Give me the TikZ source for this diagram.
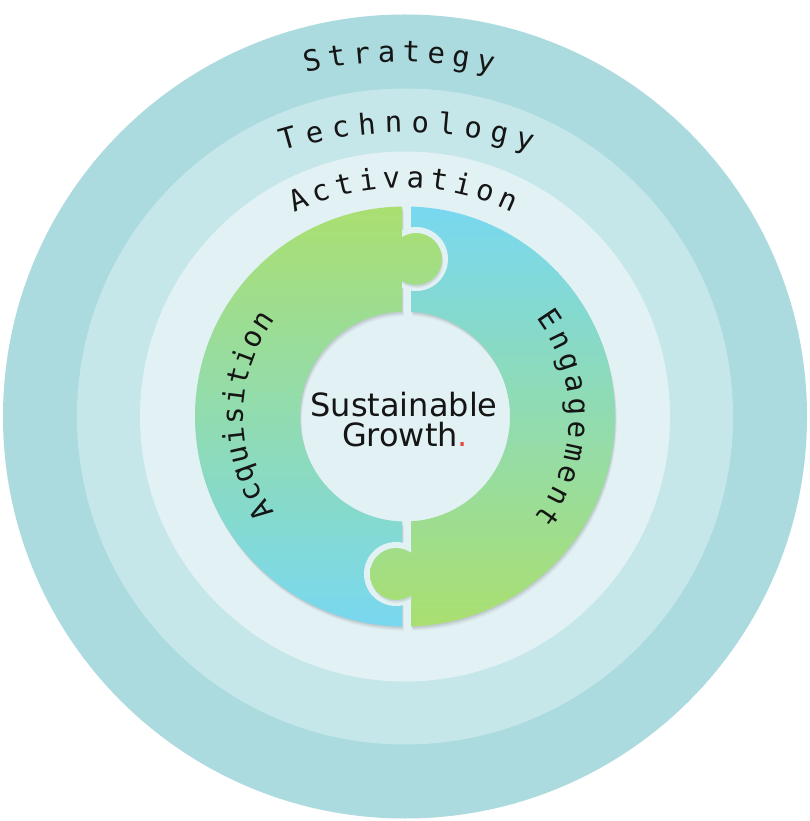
\documentclass[tikz,border=0pt]{standalone}
\usepackage{fontspec}
\newfontfamily\arcfont{DejaVu Sans Mono}
\newfontfamily\centerfont{DejaVu Sans}
\definecolor{ringA}{HTML}{ABDADF}
\definecolor{ringB}{HTML}{C5E7E9}
\definecolor{ringC}{HTML}{E2F1F4}
\definecolor{pgreen}{HTML}{AADF70}
\definecolor{pblue}{HTML}{78D8F0}
\definecolor{dotred}{HTML}{E5483E}
\definecolor{inktext}{HTML}{151515}
\tikzset{
  arcletter/.style={font=\arcfont\fontsize{29}{29}\selectfont, inner sep=0pt, anchor=base, text=inktext},
  centertext/.style={font=\centerfont\fontsize{32}{32}\selectfont, inner sep=0pt, anchor=base, text=inktext},
  shadeL/.style={top color=pgreen, bottom color=pblue},
  shadeR/.style={top color=pblue, bottom color=pgreen},
}
\def\leftC{(-3,209.979) arc[start angle=90.8185, end angle=269.1815, radius=210] -- (-3,-104.957) arc[start angle=268.363, end angle=91.637, radius=105] -- cycle}
\def\rightC{(6,209.914) arc[start angle=88.3628, end angle=-88.3628, radius=210] -- (6,-104.828) arc[start angle=-86.7242, end angle=86.7242, radius=105] -- cycle}
\def\knobT{(11,157.5) circle (26)}
\def\knobB{(-9,-157.5) circle (26)}
\begin{document}
\begin{tikzpicture}[x=1pt,y=1pt]
\useasboundingbox (-405,-404.5) rectangle (405,416.5);
\fill[white] (-405,-404.5) rectangle (405,416.5);
% rings
\fill[ringA] (0,0) circle (402);
\fill[ringB] (0,0) circle (328);
\fill[ringC] (0,0) circle (265);
% soft shadows of the puzzle pieces
\foreach \s/\o in {1.5/0.07,3/0.05,4.5/0.035} {
  \fill[black, opacity=\o, shift={(0.4*\s,-\s)}] \leftC;
  \fill[black, opacity=\o, shift={(0.4*\s,-\s)}] \rightC;
}
% left piece
\begin{scope}
  \clip \leftC;
  \shade[shadeL] (-215,-210) rectangle (45,210);
\end{scope}
% right piece
\begin{scope}
  \clip \rightC;
  \shade[shadeR] (-40,-210) rectangle (215,210);
\end{scope}
% top knob (part of the left piece) with its cut-out
\begin{scope}
  \clip (-3,100) rectangle (60,220);
  \fill[ringC] (11,157.5) circle (32);
  \foreach \s/\o in {1.5/0.07,3/0.05} {
    \fill[black, opacity=\o, shift={(0.4*\s,-\s)}] \knobT;
  }
\end{scope}
\begin{scope}
  \clip \knobT;
  \shade[shadeL] (-215,-210) rectangle (45,210);
\end{scope}
% bottom knob (part of the right piece) with its cut-out
\begin{scope}
  \clip (-60,-220) rectangle (6,-100);
  \fill[ringC] (-9,-157.5) circle (32);
  \foreach \s/\o in {1.5/0.07,3/0.05} {
    \fill[black, opacity=\o, shift={(0.4*\s,-\s)}] \knobB;
  }
\end{scope}
\begin{scope}
  \clip \knobB;
  \shade[shadeR] (-40,-210) rectangle (215,210);
\end{scope}
% curved ring titles
\begin{scope}[shift={(-6,-45.5)}]
  \foreach \ch [count=\i from 0] in {S,t,r,a,t,e,g,y} {
    \pgfmathsetmacro{\ang}{90+3.5*(3.5-\i)}
    \node[arcletter, rotate=\ang-90] (str\i) at (\ang:400) {\ch};
  }
\end{scope}
\begin{scope}[shift={(2,-146)}]
  \foreach \ch [count=\i from 0] in {T,e,c,h,n,o,l,o,g,y} {
    \pgfmathsetmacro{\ang}{90+3.48*(4.5-\i)}
    \node[arcletter, rotate=\ang-90] (tec\i) at (\ang:430) {\ch};
  }
\end{scope}
\begin{scope}[shift={(-1.5,-21)}]
  \foreach \ch [count=\i from 0] in {A,c,t,i,v,a,t,i,o,n} {
    \pgfmathsetmacro{\ang}{90+5.3*(4.5-\i)}
    \node[arcletter, rotate=\ang-90] (act\i) at (\ang:250) {\ch};
  }
\end{scope}
% curved piece labels
\foreach \ch [count=\i from 0] in {A,c,q,u,i,s,i,t,i,o,n} {
  \pgfmathsetmacro{\ang}{179.75+6.7*(5-\i)}
  \node[arcletter, rotate=\ang-90] (acq\i) at (\ang:162) {\ch};
}
\foreach \ch [count=\i from 0] in {E,n,g,a,g,e,m,e,n,t} {
  \pgfmathsetmacro{\ang}{-0.6+7.65*(4.5-\i)}
  \node[arcletter, rotate=\ang-90] (eng\i) at (\ang:164) {\ch};
}
% centre text
\node[centertext] (sus) at (-1,-0.5) {Sustainable};
\node[centertext] (gro) at (0,-30.5) {Growth\textcolor{dotred}{.}};
\end{tikzpicture}
\end{document}
